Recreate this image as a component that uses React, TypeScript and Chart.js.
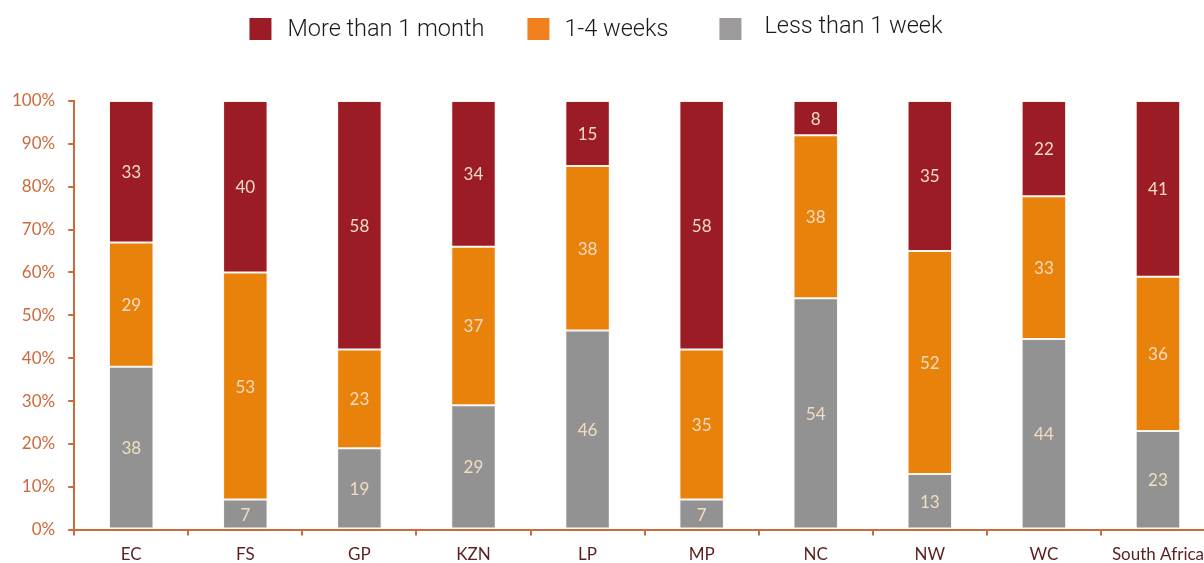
import React, { useEffect, useRef } from "react";
import { Chart, registerables } from "chart.js";

Chart.register(...registerables);

const categories = ["EC", "FS", "GP", "KZN", "LP", "MP", "NC", "NW", "WC", "South Africa"];
const lessThanWeek = [38, 7, 19, 29, 46, 7, 54, 13, 44, 23];
const oneToFourWeeks = [29, 53, 23, 37, 38, 35, 38, 52, 33, 36];
const moreThanMonth = [33, 40, 58, 34, 15, 58, 8, 35, 22, 41];
const yTickLabels = ["0%", "10%", "20%", "30%", "40%", "50%", "60%", "70%", "80%", "90%", "100%"];

const RED = "#9b1c24";
const ORANGE = "#e8820a";
const GRAY = "#929292";
const AXIS = "#cc6a3c";
const LABEL = "#f3dcc2";
const XLABEL = "#5b1f20";

const totals = categories.map((_, i) => lessThanWeek[i] + oneToFourWeeks[i] + moreThanMonth[i]);
const pct = (arr: number[]) => arr.map((v, i) => (v / totals[i]) * 100);

const legendItems = [
  { text: "More than 1 month", color: RED, dy: 1, gapText: 16, gapAfter: 43 },
  { text: "1-4 weeks", color: "#f0801e", dy: 1, gapText: 15, gapAfter: 51 },
  { text: "Less than 1 week", color: "#9c9a9a", dy: -2, gapText: 23, gapAfter: 0 },
];

const raw = [lessThanWeek, oneToFourWeeks, moreThanMonth];

const labelPlugin = {
  id: "barLabels",
  afterDatasetsDraw(chart: any) {
    const ctx = chart.ctx;
    ctx.save();
    ctx.font = "17px Lato";
    ctx.fillStyle = LABEL;
    ctx.textAlign = "center";
    ctx.textBaseline = "middle";
    chart.data.datasets.forEach((ds: any, di: number) => {
      const meta = chart.getDatasetMeta(di);
      meta.data.forEach((bar: any, i: number) => {
        const { x, y, base } = bar.getProps(["x", "y", "base"], true);
        ctx.fillText(String(raw[di][i]), x, (y + base) / 2 + 1);
      });
    });
    ctx.restore();
  },
};

const legendPlugin = {
  id: "customLegend",
  afterDraw(chart: any) {
    const ctx = chart.ctx;
    ctx.save();
    ctx.font = "300 23.5px Roboto";
    ctx.textBaseline = "middle";
    const box = 22;
    const widths = legendItems.map((it) => box + it.gapText + ctx.measureText(it.text).width + it.gapAfter);
    const total = widths.reduce((a, b) => a + b, 0);
    let x = 598 - total / 2;
    const cy = 29;
    legendItems.forEach((it, k) => {
      ctx.fillStyle = it.color;
      ctx.fillRect(x, cy - box / 2, box, box);
      ctx.fillStyle = "#1a1a1a";
      ctx.fillText(it.text, x + box + it.gapText, cy + it.dy);
      x += widths[k];
    });
    ctx.restore();
  },
};

export default function App() {
  const ref = useRef<HTMLCanvasElement | null>(null);
  useEffect(() => {
    if (!ref.current) return;
    const common = {
      barPercentage: 0.39,
      categoryPercentage: 1,
      borderWidth: 1,
      borderColor: "rgba(255,235,225,0.55)",
      borderSkipped: false,
    };
    const chart = new Chart(ref.current, {
      type: "bar",
      data: {
        labels: categories,
        datasets: [
          { label: "Less than 1 week", data: pct(lessThanWeek), backgroundColor: GRAY, ...common },
          { label: "1-4 weeks", data: pct(oneToFourWeeks), backgroundColor: ORANGE, ...common },
          { label: "More than 1 month", data: pct(moreThanMonth), backgroundColor: RED, ...common },
        ],
      },
      options: {
        animation: false,
        responsive: false,
        layout: { padding: { top: 101, left: 1, right: 0, bottom: 0 } },
        plugins: { legend: { display: false }, tooltip: { enabled: false } },
        scales: {
          x: {
            stacked: true,
            grid: { drawOnChartArea: false, drawTicks: true, tickLength: 6, color: AXIS, lineWidth: 2, offset: true },
            border: { display: true, color: AXIS, width: 2 },
            ticks: { color: XLABEL, font: { family: "Lato", size: 17 }, padding: 9, maxRotation: 0, autoSkip: false },
          },
          y: {
            stacked: true,
            min: 0,
            max: 100,
            grid: { drawOnChartArea: false, drawTicks: true, tickLength: 6, color: AXIS, lineWidth: 2 },
            border: { display: true, color: AXIS, width: 2 },
            ticks: {
              stepSize: 10,
              color: AXIS,
              font: { family: "Lato", size: 17 },
              padding: 13,
              callback: (_v: any, i: number) => yTickLabels[i],
            },
          },
        },
      },
      plugins: [labelPlugin, legendPlugin],
    });
    return () => chart.destroy();
  }, []);
  return (
    <div style={{ position: "fixed", left: 0, top: 0, width: 1204, height: 563, overflow: "hidden", background: "#fff" }}>
      <canvas ref={ref} width={1217} height={574} style={{ display: "block", marginLeft: -2 }} />
    </div>
  );
}
